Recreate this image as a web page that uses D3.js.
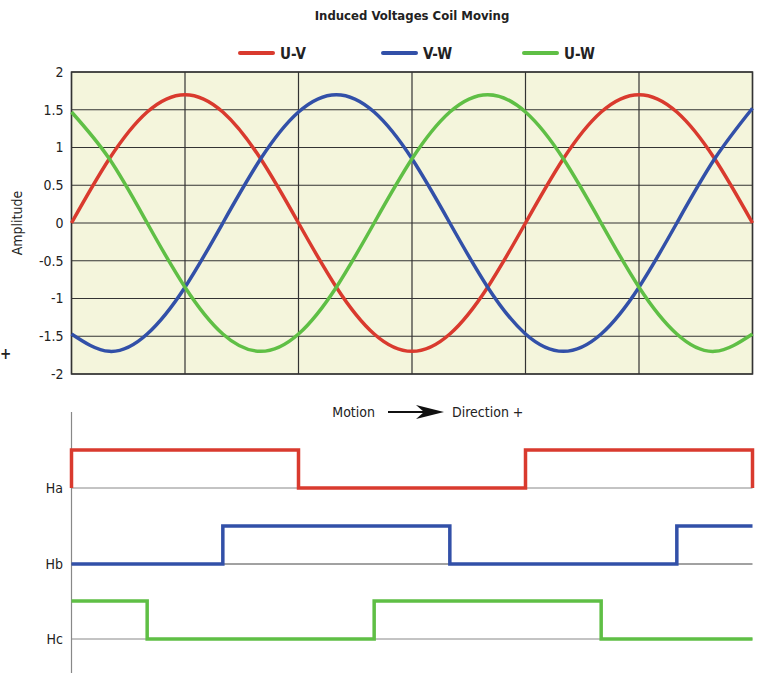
<!DOCTYPE html>
<html>
<head>
<meta charset="utf-8">
<script src="https://cdn.jsdelivr.net/npm/d3@7"></script>
<style>
  body { margin: 0; background: #fff; }
  text { font-family: "Liberation Sans Narrow", "DejaVu Sans Condensed", "Arial Narrow", sans-serif; fill: #222; }
</style>
</head>
<body>
<script>
// electrical angle in degrees, sampled every 30
var angles = [0, 30, 60, 90, 120, 150, 180, 210, 240, 270, 300, 330, 360, 390, 420, 450, 480, 510, 540]
var uv = [0, 0.85, 1.47, 1.7, 1.47, 0.85, 0, -0.85, -1.47, -1.7, -1.47, -0.85, 0, 0.85, 1.47, 1.7, 1.47, 0.85, 0]
var vw = [-1.47, -1.7, -1.47, -0.85, 0, 0.85, 1.47, 1.7, 1.47, 0.85, 0, -0.85, -1.47, -1.7, -1.47, -0.85, 0, 0.85, 1.52]
var uw = [1.47, 0.85, 0, -0.85, -1.47, -1.7, -1.47, -0.85, 0, 0.85, 1.47, 1.7, 1.47, 0.85, 0, -0.85, -1.47, -1.7, -1.47]
var seriesNames = ["U-V", "V-W", "U-W"]
var yTicks = [2, 1.5, 1, 0.5, 0, -0.5, -1, -1.5, -2]
var xGrid = [0, 90, 180, 270, 360, 450, 540]

// hall sensor signals: [angle, state] at each switching point (1 = high)
var ha = [[0, 0], [0, 1], [180, 0], [360, 1], [540, 0]]
var hb = [[0, 0], [120, 1], [300, 0], [480, 1], [540, 1]]
var hc = [[0, 1], [60, 0], [240, 1], [420, 0], [540, 0]]
var hallNames = ["Ha", "Hb", "Hc"]

var colors = ["#d93a2e", "#3250a8", "#5fbf45"]

var svg = d3.select("body")
  .append("svg")
  .attr("width", 759)
  .attr("height", 673)

var xScale = d3.scaleLinear()
  .domain([0, 540])
  .range([71.5, 752.5])

var yScale = d3.scaleLinear()
  .domain([-2, 2])
  .range([374, 72])

// title
svg.append("text").text("Induced Voltages Coil Moving")
  .attr("x", 412).attr("y", 20)
  .attr("text-anchor", "middle")
  .style("font-weight", "bold").style("font-size", "13px")

// legend
var legendX = [240, 383, 524]
seriesNames.forEach(function(n, i){
  svg.append("line")
    .attr("x1", legendX[i]).attr("x2", legendX[i] + 33)
    .attr("y1", 53).attr("y2", 53)
    .attr("stroke", colors[i]).attr("stroke-width", 4)
    .attr("stroke-linecap", "round")
  svg.append("text").text(n)
    .attr("x", legendX[i] + 40).attr("y", 59)
    .style("font-weight", "bold").style("font-size", "15px")
})

// plot background
svg.append("rect")
  .attr("x", xScale(0)).attr("y", yScale(2))
  .attr("width", xScale(540) - xScale(0))
  .attr("height", yScale(-2) - yScale(2))
  .attr("fill", "#f4f5dc")

// grid
svg.append("g").selectAll("line")
  .data(yTicks)
  .enter()
  .append("line")
  .attr("x1", xScale(0)).attr("x2", xScale(540))
  .attr("y1", function(d){ return yScale(d) })
  .attr("y2", function(d){ return yScale(d) })
  .attr("stroke", "#333").attr("stroke-width", 1.2)

svg.append("g").selectAll("line")
  .data(xGrid)
  .enter()
  .append("line")
  .attr("x1", function(d){ return xScale(d) })
  .attr("x2", function(d){ return xScale(d) })
  .attr("y1", yScale(2)).attr("y2", yScale(-2))
  .attr("stroke", "#333").attr("stroke-width", 1.2)

svg.append("rect")
  .attr("x", xScale(0)).attr("y", yScale(2))
  .attr("width", xScale(540) - xScale(0))
  .attr("height", yScale(-2) - yScale(2))
  .attr("fill", "none").attr("stroke", "#333").attr("stroke-width", 1.5)

// y axis labels
var yAxis = d3.axisLeft(yScale).tickValues(yTicks).tickSize(0).tickPadding(8)
  .tickFormat(function(d){ return String(d) })
var ya = svg.append("g").attr("transform", "translate(" + xScale(0) + ",0)").call(yAxis)
ya.select(".domain").remove()
ya.selectAll("text")
  .style("font-size", "14px")
  .style("font-family", "\"Liberation Sans Narrow\", \"DejaVu Sans Condensed\", sans-serif")
  .attr("fill", "#222")

svg.append("text").text("Amplitude")
  .attr("transform", "translate(22,223) rotate(-90)")
  .attr("text-anchor", "middle")
  .style("font-size", "14px")

svg.append("text").text("+")
  .attr("x", 0).attr("y", 359)
  .style("font-weight", "bold").style("font-size", "15px")

// voltage curves
var line = d3.line()
  .x(function(d){ return xScale(d[0]) })
  .y(function(d){ return yScale(d[1]) })
  .curve(d3.curveNatural)

;[uv, vw, uw].forEach(function(s, i){
  svg.append("path")
    .datum(angles.map(function(a, j){ return [a, s[j]] }))
    .attr("d", line)
    .attr("fill", "none")
    .attr("stroke", colors[i])
    .attr("stroke-width", 3.5)
})

// motion direction
svg.append("text").text("Motion")
  .attr("x", 375).attr("y", 417)
  .attr("text-anchor", "end")
  .style("font-size", "14px")

svg.append("line")
  .attr("x1", 388).attr("x2", 430)
  .attr("y1", 412).attr("y2", 412)
  .attr("stroke", "#111").attr("stroke-width", 1.8)

svg.append("path")
  .attr("d", "M416,405 L444,412 L416,419 L424,412 Z")
  .attr("fill", "#111")

svg.append("text").text("Direction +")
  .attr("x", 452).attr("y", 417)
  .style("font-size", "14px")

// hall sensor signals
var hallBase = [488, 564, 639]
var hallHigh = 38

svg.append("line")
  .attr("x1", xScale(0)).attr("x2", xScale(0))
  .attr("y1", 412).attr("y2", 673)
  .attr("stroke", "#888").attr("stroke-width", 1.2)

;[ha, hb, hc].forEach(function(s, i){
  var yH = d3.scaleLinear().domain([0, 1]).range([hallBase[i], hallBase[i] - hallHigh])

  svg.append("line")
    .attr("x1", xScale(0)).attr("x2", xScale(540))
    .attr("y1", hallBase[i]).attr("y2", hallBase[i])
    .attr("stroke", i == 1 ? "#444" : "#888").attr("stroke-width", 1)

  var step = d3.line()
    .x(function(d){ return xScale(d[0]) })
    .y(function(d){ return yH(d[1]) })
    .curve(d3.curveStepAfter)

  svg.append("path")
    .datum(s)
    .attr("d", step)
    .attr("fill", "none")
    .attr("stroke", colors[i])
    .attr("stroke-width", 3.5)

  svg.append("text").text(hallNames[i])
    .attr("x", 63).attr("y", hallBase[i] + 5)
    .attr("text-anchor", "end")
    .style("font-size", "14px")
})
</script>
</body>
</html>
